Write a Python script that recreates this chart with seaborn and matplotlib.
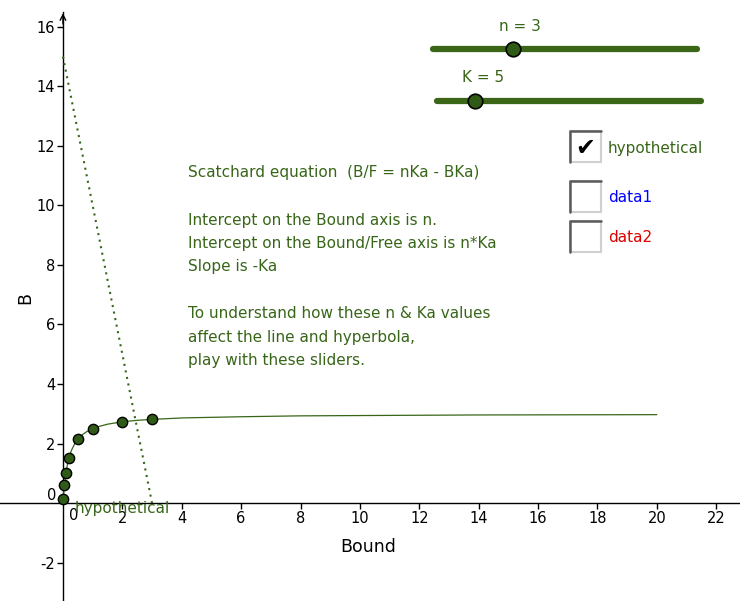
import matplotlib
matplotlib.use("Agg")
import matplotlib.pyplot as plt
import seaborn as sns
from matplotlib.patches import Rectangle
from matplotlib.lines import Line2D

# ---- data ----
pts_x = [0.01, 0.05, 0.1, 0.2, 0.5, 1.0, 2.0, 3.0]
pts_y = [0.15, 0.6, 1.0, 1.5, 2.14, 2.5, 2.73, 2.81]

curve_x = [0, 0.02, 0.05, 0.1, 0.15, 0.2, 0.25, 0.3, 0.4, 0.5, 0.6, 0.7, 0.8,
           1.0, 1.2, 1.5, 2.0, 2.5, 3.0, 4.0, 5.0, 6.0, 8.0, 10.0, 14.0, 20.0]
curve_y = [0, 0.27, 0.6, 1.0, 1.29, 1.5, 1.67, 1.8, 2.0, 2.14, 2.25, 2.33, 2.4,
           2.5, 2.57, 2.65, 2.73, 2.78, 2.81, 2.86, 2.88, 2.9, 2.93, 2.94, 2.96, 2.97]

line_x = [0, 3]
line_y = [15, 0]

xticks = [2, 4, 6, 8, 10, 12, 14, 16, 18, 20, 22]
yticks = [-2, 2, 4, 6, 8, 10, 12, 14, 16]

text_lines = [
    (0, "Scatchard equation  (B/F = nKa - BKa)"),
    (2, "Intercept on the Bound axis is n."),
    (3, "Intercept on the Bound/Free axis is n*Ka"),
    (4, "Slope is -Ka"),
    (6, "To understand how these n & Ka values"),
    (7, "affect the line and hyperbola,"),
    (8, "play with these sliders."),
]
checkbox_labels = ["hypothetical", "data1", "data2"]
checkbox_colors = ["#386619", "#0000ff", "#dd0000"]
checkbox_checked = [True, False, False]

GREEN = "#386619"
MARK = "#2f5b16"

sns.set_theme(style="white")
plt.rcParams["font.family"] = ["DejaVu Sans"]
plt.rcParams["axes.unicode_minus"] = False

W, H = 740, 601
fig = plt.figure(figsize=(W / 100, H / 100), dpi=100)
ax = fig.add_axes([0, 0, 1, 1])
ax.set_facecolor("white")
ax.set_xlim(-2.12, 22.8)
ax.set_ylim(-3.29, 16.9)

for s in ["top", "right"]:
    ax.spines[s].set_visible(False)
for s in ["left", "bottom"]:
    ax.spines[s].set_position(("data", 0))
    ax.spines[s].set_color("black")
    ax.spines[s].set_linewidth(1.0)
ax.spines["left"].set_bounds(-3.29, 16.5)

ax.set_xticks(xticks)
ax.set_yticks(yticks)
ax.tick_params(bottom=True, left=True, direction="out", length=4, width=1,
               labelsize=10.5, colors="black", pad=1.5)
ax.annotate("", xy=(0, 16.55), xytext=(0, 16.0),
            arrowprops=dict(arrowstyle="->", color="black", lw=1.0,
                            mutation_scale=10))
ax.text(0.37, -0.15, "0", ha="center", va="top", fontsize=10.5, color="black")
ax.text(-0.22, 0.27, "0", ha="right", va="center", fontsize=10.5, color="black")

ax.text(10.27, -1.48, "Bound", ha="center", va="center", fontsize=12.5, color="black")
ax.text(-1.28, 6.9, "B", ha="center", va="center", fontsize=12.5, rotation=90,
        color="black")

# data
sns.lineplot(x=line_x, y=line_y, ax=ax, color=GREEN, lw=1.5,
             ls=(0, (1, 2.2)), zorder=3)
sns.lineplot(x=curve_x, y=curve_y, ax=ax, color=GREEN, lw=0.9, zorder=3)
sns.scatterplot(x=pts_x, y=pts_y, ax=ax, color=MARK, edgecolor="black",
                linewidth=1.0, s=55, zorder=5)
ax.text((75 - 63) / 29.7, (503 - 513) / 29.75, "hypothetical", fontsize=11,
        color=GREEN, ha="left", va="baseline", zorder=6)


def fx(x):
    return x / W


def fy(y):
    return 1 - y / H


# text block
for k, t in text_lines:
    fig.text(fx(188), fy(177.5 + 23.5 * k), t, fontsize=11, color=GREEN,
             ha="left", va="baseline")

# sliders
sliders = [("n = 3", 499, 30.7, 432.7, 696.7, 49.3, 512.7),
           ("K = 5", 461.7, 82.3, 436.5, 701.0, 101.0, 475.0)]
for lab, lx, ly, x1, x2, yy, kx in sliders:
    fig.add_artist(Line2D([fx(x1), fx(x2)], [fy(yy), fy(yy)], color="#3b6618",
                          lw=4.5, solid_capstyle="round", transform=fig.transFigure))
    fig.add_artist(Line2D([fx(kx)], [fy(yy)], marker="o", markersize=10.5,
                          markerfacecolor=MARK, markeredgecolor="black",
                          markeredgewidth=1.2, transform=fig.transFigure))
    fig.text(fx(lx), fy(ly), lab, fontsize=11, color=GREEN, ha="left",
             va="baseline")

# checkboxes
boxes = [(131, 153.3), (180.5, 202.3), (220.5, 242.3)]
for (top, base), lab, col, chk in zip(boxes, checkbox_labels, checkbox_colors,
                                      checkbox_checked):
    x0, x1 = 569.5, 600.5
    y0, y1 = top, top + 31
    fig.add_artist(Rectangle((fx(x0), fy(y1)), (x1 - x0) / W, (y1 - y0) / H,
                             facecolor="white", edgecolor="#d0d0d0", lw=1.5,
                             transform=fig.transFigure))
    fig.add_artist(Line2D([fx(x0), fx(x0), fx(x1)], [fy(y1), fy(y0), fy(y0)],
                          color="#5a5a5a", lw=1.8, transform=fig.transFigure))
    if chk:
        fig.text(fx(585), fy(148), "\u2714", fontsize=17, color="black",
                 ha="center", va="center", fontweight="bold")
    fig.text(fx(608), fy(base), lab, fontsize=11, color=col, ha="left",
             va="baseline")

fig.savefig("out.png", dpi=100)
